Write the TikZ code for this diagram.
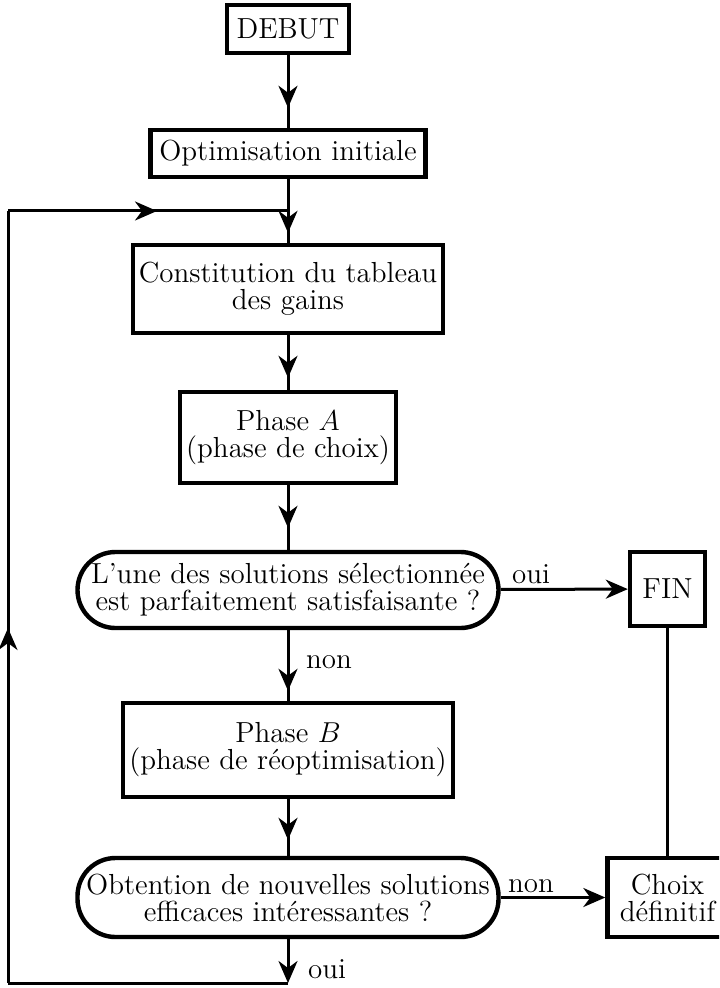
\documentclass[tikz,border=0pt]{standalone}
\usepackage{tikz}
\usetikzlibrary{arrows.meta}
\usetikzlibrary{decorations.markings}

\tikzset{
  >={Stealth[length=11pt,width=9.5pt,inset=3.5pt]},
  box/.style={draw, line width=2.2pt, align=center, inner sep=2pt, font=\fontsize{14.5pt}{13.5pt}\selectfont},
  test/.style={box, rounded corners=19pt},
  link/.style={line width=1.5pt},
  midarrow/.style={link, postaction={decorate}, decoration={markings, mark=at position #1 with {\arrow{>}}}},
  answer/.style={anchor=base, inner sep=0pt, font=\fontsize{14.5pt}{13.5pt}\selectfont},
}

\begin{document}
\begin{tikzpicture}[x=0.5pt, y=-0.5pt]
	\useasboundingbox (0,0) rectangle (719,988);
	\clip (0,0) rectangle (719,988);

	% main column
	\node[box, minimum width=61pt, minimum height=24pt] (debut) at (288,29) {DEBUT};
	\node[box, minimum width=137.5pt, minimum height=23.5pt] (optim) at (288,153.5) {Optimisation initiale};
	\node[box, minimum width=155pt, minimum height=44pt] (gains) at (288,289) {Constitution du tableau\\des gains};
	\node[box, minimum width=108pt, minimum height=45.5pt] (phaseA) at (288,437.5) {Phase $A$\\(phase de choix)};
	\node[test, minimum width=210.5pt, minimum height=38pt] (testA) at (288,590) {L'une des solutions sélectionnée\\est parfaitement satisfaisante ?};
	\node[box, minimum width=165pt, minimum height=47pt] (phaseB) at (288,750) {Phase $B$\\(phase de réoptimisation)};
	\node[test, minimum width=210.5pt, minimum height=39.5pt] (testB) at (288,897.5) {Obtention de nouvelles solutions\\efficaces intéressantes ?};

	% right column
	\node[box, minimum width=37.5pt, minimum height=37pt] (fin) at (667.5,589) {FIN};
	\node[box, minimum width=60pt, minimum height=39.5pt] (choix) at (667.5,897.5) {Choix\\définitif};

	\coordinate (join) at (288,211);
	\coordinate (bot) at (288,983);
	\coordinate (cornerBL) at (8,983);
	\coordinate (cornerTL) at (8,211);

	% connectors
	\draw[midarrow=-10pt] (debut) -- (optim);
	\draw[link] (optim) -- (join);
	\draw[midarrow=-5pt] (join) -- (gains);
	\draw[midarrow=-6pt] (gains) -- (phaseA);
	\draw[midarrow=-11pt] (phaseA) -- (testA);
	\draw[midarrow=-5pt] (testA) -- (phaseB);
	\draw[midarrow=-8pt] (phaseB) -- (testB);
	\draw[link,->] (testA) -- (fin);
	\draw[link,->] (testB) -- (choix);
	\draw[link] (fin) -- (choix);
	\draw[link,->] (testB) -- (bot);
	\draw[link] (bot) -- (cornerBL);
	\draw[midarrow=177.5pt] (cornerBL) -- (cornerTL);
	\draw[midarrow=74.5pt] (cornerTL) -- (join);

	% answers
	\node[answer] (ouiA) at (531,583) {oui};
	\node[answer] (nonA) at (329,668) {non};
	\node[answer] (nonB) at (531,892) {non};
	\node[answer] (ouiB) at (327,978) {oui};

\end{tikzpicture}
\end{document}
